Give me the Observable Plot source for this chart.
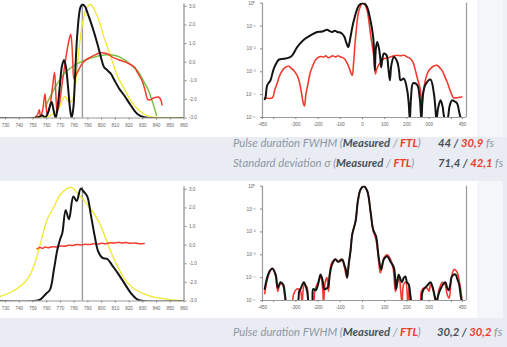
<!DOCTYPE html>
<html><head><meta charset="utf-8">
<script src="https://cdn.jsdelivr.net/npm/d3@7"></script>
<script src="https://cdn.jsdelivr.net/npm/@observablehq/plot@0.6"></script>
<style>
html,body{margin:0;padding:0}
body{width:507px;height:347px;overflow:hidden;position:relative;background:#e9edf3;font-family:Lato,"Liberation Sans",sans-serif}
.panel{position:absolute}
.chart{position:absolute}
.txt{position:absolute;font-size:11.3px;line-height:12px;white-space:nowrap;font-style:italic;color:#8d96a3}
.txt b{font-weight:700;color:#4b5058}
.txt .r{font-weight:700;color:#ee3a2c}
.txt .n{font-weight:700;color:#4b5058}
.txt .u{font-weight:400;color:#8d96a3}
</style></head>
<body>
<div class="panel" style="left:0;top:0;width:507px;height:137px;background:#eef1f6"></div>
<div class="panel" style="left:0;top:0;width:503px;height:137px;background:#f4f6fa"></div>
<div class="panel" style="left:0;top:0;width:477px;height:137px;background:#ffffff"></div>
<div class="panel" style="left:0;top:181px;width:503px;height:137px;background:#f4f6fa"></div>
<div class="panel" style="left:0;top:181px;width:477px;height:137px;background:#ffffff"></div>
<div id="c1" class="chart" style="left:0;top:0"></div>
<div id="c2" class="chart" style="left:240px;top:0"></div>
<div id="c3" class="chart" style="left:0;top:183px"></div>
<div id="c4" class="chart" style="left:240px;top:183px"></div>
<div class="txt" style="left:233px;top:137px">Pulse duration FWHM (<b>Measured</b> / <span class="r">FTL</span>)</div>
<div class="txt" style="left:438px;top:137px"><span class="n">44 / </span><span class="r">30,9</span> <span class="u">fs</span></div>
<div class="txt" style="left:233px;top:157px">Standard deviation σ (<b>Measured</b> / <span class="r">FTL</span>)</div>
<div class="txt" style="left:438px;top:157px"><span class="n">71,4 / </span><span class="r">42,1</span> <span class="u">fs</span></div>
<div class="txt" style="left:233px;top:326px">Pulse duration FWHM (<b>Measured</b> / <span class="r">FTL</span>)</div>
<div class="txt" style="left:437px;top:326px"><span class="n">30,2 / </span><span class="r">30,2</span> <span class="u">fs</span></div>
<script>
// ---------- DATA ----------
// wavelength ticks (nm) and phase ticks (rad)
const wlTicks = [730,740,750,760,770,780,790,800,810,820,830,840,850,860];
const phaseTicks = [-3,-2,-1,0,1,2,3];
const timeTicks = [-450,-400,-300,-200,-100,0,100,200,300,400,450];
const logTicks = [1e-5,1e-4,1e-3,1e-2,1e-1,1];
const centerWl = 786;

// Top row (before correction): [wavelength nm, normalized intensity]
const topMeasuredSpectrum = [[726,0],[750,0],[753,0.005],[755,0.012],[756.8,0.025],[758,0.01],[759.5,0.012],[761,0.05],[763.6,0.14],[765,0.07],[766.5,0.0],[768,0.1],[769.7,0.3],[771,0.45],[772.6,0.51],[774,0.45],[775.5,0.28],[777,0.08],[778.2,0.0],[779.5,0.1],[780.4,0.3],[782.3,0.74],[784.7,0.98],[786.2,1.0],[788,0.98],[789.6,0.93],[793.3,0.8],[797,0.65],[799.4,0.54],[801.7,0.45],[804.2,0.42],[806.7,0.39],[809,0.34],[812.7,0.26],[816.4,0.2],[821.3,0.11],[826,0.035],[831,0.006],[835,0],[860,0]];
const topFtlSpectrum = [[750,0],[760,0.01],[765,0.04],[769,0.09],[771,0.15],[773.3,0.19],[775,0.16],[776.5,0.14],[778.7,0.16],[780,0.22],[781,0.3],[783.5,0.6],[786,0.83],[788.4,0.95],[790.5,0.99],[792,1.0],[794.5,0.96],[798,0.86],[801.7,0.71],[806.7,0.54],[811.5,0.37],[816.4,0.26],[821.3,0.15],[826,0.08],[833.4,0.02],[840,0.005],[860,0]];
// [wavelength nm, spectral phase rad]
const topMeasuredPhase = [[752,-2.95],[753.5,-2.8],[754.6,-2.55],[755.5,-2.9],[757,-2.6],[758.7,-1.7],[759.6,-2.4],[760.5,-2.85],[762.5,-2.3],[764.3,-1.3],[765.7,-0.54],[766.6,-1.6],[767.6,-2.7],[769.5,-2.1],[771.5,-1.0],[773.5,0.0],[775.5,0.9],[777.4,1.5],[778.2,1.1],[779,0.0],[779.9,-0.9],[782,-0.6],[786.6,0.0],[792,0.27],[796,0.42],[799.4,0.5],[804,0.45],[809,0.23],[814,0.09],[819,-0.05],[824,-0.27],[826,-0.54],[828.5,-0.85],[830,-1.1],[832,-1.6],[833.5,-2.0],[835.5,-2.02],[837,-1.95],[839,-1.9],[841.5,-1.87],[843,-2.0],[844,-2.3]];
const topFitPhase = [[759,-2.4],[765,-1.5],[770,-0.9],[775,-0.45],[780,-0.18],[784.6,0.0],[790,0.17],[794.5,0.27],[799,0.36],[804,0.4],[810,0.36],[815,0.2],[819,0.0],[823,-0.25],[826,-0.45],[829,-0.8],[831,-1.07],[834,-1.5],[836,-1.9],[838,-2.35],[840,-2.86]];
// [time fs, log10 normalized intensity]
const topMeasuredPulse = [[-440,-4.2],[-436,-4.1],[-429,-3.6],[-414,-3.37],[-399,-2.86],[-376,-2.47],[-354,-2.43],[-331,-2.38],[-316,-2.28],[-294,-1.92],[-264,-1.6],[-234,-1.41],[-204,-1.26],[-181,-1.24],[-159,-1.16],[-148,-1.22],[-136,-1.26],[-125,-1.2],[-114,-1.26],[-100,-1.28],[-91,-1.34],[-80,-1.5],[-76,-1.63],[-68,-1.85],[-64,-1.92],[-58,-1.7],[-54,-1.48],[-39,-0.76],[-16,-0.1],[0,0],[10,-0.03],[21,-0.17],[36,-0.76],[48,-1.48],[53,-2.3],[55.5,-2.94],[60,-2.0],[66,-1.7],[73,-1.92],[80,-2.4],[84,-2.8],[90,-2.4],[96,-2.2],[108,-2.27],[116,-2.8],[123,-3.37],[130,-2.7],[141,-2.35],[156,-2.55],[165,-3.0],[171,-3.37],[186,-3.3],[201,-3.8],[208,-4.4],[213,-5.1],[218,-4.2],[228,-3.5],[246,-3.57],[258,-4.2],[265,-5.1],[272,-4.0],[283,-3.57],[306,-3.34],[321,-3.93],[328,-4.6],[333,-5.1],[340,-4.6],[351,-4.25],[360,-4.5],[366,-4.9],[372,-5.1],[381,-5.1],[392,-4.5],[403,-4.25],[415,-4.3],[426,-4.39],[436,-4.8],[444,-5.1]];
const topFtlPulse = [[-440,-4.14],[-406,-4.14],[-395,-3.8],[-384,-3.5],[-370,-3.1],[-354,-2.86],[-340,-2.77],[-331,-2.76],[-320,-2.85],[-309,-2.94],[-295,-3.15],[-286,-3.37],[-275,-3.9],[-268,-4.3],[-261,-4.5],[-255,-4.0],[-249,-3.7],[-240,-3.25],[-234,-3.0],[-220,-2.65],[-211,-2.47],[-196,-2.35],[-185,-2.33],[-174,-2.35],[-165,-2.3],[-155,-2.38],[-144,-2.35],[-135,-2.3],[-121,-2.35],[-110,-2.3],[-99,-2.35],[-85,-2.4],[-76,-2.5],[-61,-2.8],[-50,-3.1],[-46,-3.15],[-40,-2.6],[-31,-1.48],[-16,-0.32],[0,0],[10,-0.05],[21,-0.32],[36,-1.34],[51,-2.35],[55,-2.8],[58.5,-3.1],[63,-2.9],[73,-2.7],[85,-2.55],[96,-2.43],[110,-2.4],[126,-2.35],[141,-2.3],[156,-2.28],[171,-2.3],[186,-2.28],[201,-2.35],[216,-2.43],[228,-2.6],[238,-2.94],[250,-3.4],[258,-3.66],[264,-4.1],[268,-4.46],[274,-3.9],[283,-3.37],[295,-3.0],[306,-2.86],[321,-2.75],[336,-2.72],[350,-2.85],[358,-2.94],[370,-3.2],[381,-3.45],[392,-3.75],[403,-4.03],[410,-4.14],[418,-4.14],[447,-4.1]];

// Bottom row (after correction)
const botMeasuredSpectrum = [[726,0],[750.7,0],[755.5,0.015],[759.2,0.06],[762.4,0.1],[765.3,0.28],[767.7,0.45],[769.7,0.54],[771.4,0.6],[773.8,0.8],[776.2,0.72],[779.4,0.92],[781.8,0.88],[784.8,0.99],[787.2,0.96],[789.6,0.92],[792,0.77],[795,0.57],[797.4,0.44],[800.6,0.38],[804.2,0.37],[807.9,0.31],[811.5,0.25],[816.4,0.16],[821.3,0.07],[826,0.015],[831,0],[860,0]];
const botFtlSpectrum = [[726,0.04],[736,0.09],[745.8,0.19],[750.7,0.31],[755.5,0.51],[760.4,0.72],[765.3,0.83],[770.2,0.94],[777.5,1.0],[782.4,0.95],[789.6,0.85],[794.5,0.77],[799.4,0.66],[804.2,0.51],[809,0.37],[814,0.25],[818.8,0.16],[826,0.09],[835.9,0.04],[848,0.015],[860,0]];
const botMeasuredPhase = [[753,-0.2],[755,-0.12],[757,-0.17],[759,-0.1],[761,-0.14],[764,-0.08],[767,-0.1],[770,-0.04],[773,-0.06],[776,0.0],[779,-0.02],[782,0.03],[785,0.01],[788,0.05],[791,0.03],[794,0.07],[797,0.05],[800,0.1],[803,0.08],[806,0.13],[809,0.11],[812,0.15],[815,0.12],[818,0.14],[821,0.1],[824,0.12],[827,0.08],[831,0.09]];
const botMeasuredPulse = [[-440,-4.5],[-429,-4.0],[-417,-3.7],[-406,-3.6],[-391,-3.86],[-381,-4.45],[-369,-4.2],[-357,-4.3],[-348,-4.8],[-342,-5.1],[-294,-5.1],[-285,-4.6],[-279,-4.5],[-264,-4.2],[-255,-4.4],[-249,-4.6],[-240,-5.1],[-228,-5.1],[-222,-4.5],[-210,-4.55],[-200,-4.3],[-189,-3.86],[-180,-4.1],[-172,-4.5],[-166,-4.5],[-155,-4.4],[-148,-3.9],[-136,-3.4],[-121,-3.2],[-112,-3.3],[-106,-3.3],[-98,-3.25],[-91,-3.2],[-80,-3.5],[-76,-3.6],[-69,-4.0],[-62,-3.4],[-54,-2.84],[-46,-2.1],[-31,-1.53],[-21,-0.66],[-9,-0.15],[5,0],[21,-0.2],[36,-1.1],[48,-1.9],[61,-2.19],[73,-3.13],[84,-3.64],[96,-3.2],[111,-3.06],[126,-3.3],[141,-3.55],[147,-4.0],[151,-4.5],[156,-4.2],[163,-3.86],[172,-4.1],[178,-4.2],[186,-4.0],[193,-3.95],[200,-4.2],[208,-4.3],[216,-4.8],[223,-5.1],[262,-5.1],[268,-4.7],[276,-4.5],[291,-4.35],[306,-4.2],[316,-4.45],[325,-4.8],[333,-5.1],[340,-4.8],[351,-4.5],[362,-4.3],[373,-4.2],[381,-4.45],[388,-4.55],[395,-4.3],[403,-3.94],[418,-3.86],[428,-4.1],[435,-4.3],[442,-4.8],[448,-5.1]];
const botFtlPulse = [[-440,-4.7],[-429,-4.1],[-417,-3.75],[-406,-3.6],[-392,-3.9],[-381,-4.6],[-372,-4.3],[-360,-4.3],[-350,-4.8],[-342,-5.1],[-320,-5.1],[-309,-4.7],[-295,-4.5],[-280,-4.55],[-272,-5.1],[-262,-4.3],[-250,-4.4],[-240,-5.1],[-222,-5.1],[-215,-4.6],[-205,-4.3],[-195,-4.1],[-188,-3.95],[-180,-4.4],[-175,-5.1],[-168,-4.2],[-160,-4.0],[-153,-4.6],[-145,-3.6],[-136,-3.3],[-121,-3.2],[-110,-3.3],[-98,-3.2],[-88,-3.3],[-78,-3.7],[-70,-4.0],[-60,-3.3],[-54,-2.84],[-46,-2.1],[-31,-1.5],[-21,-0.66],[-9,-0.15],[5,0],[21,-0.2],[36,-1.1],[48,-1.95],[60,-2.3],[70,-3.0],[80,-3.8],[86,-3.6],[96,-3.15],[111,-3.0],[126,-3.2],[138,-3.6],[148,-4.6],[156,-4.3],[165,-3.95],[172,-4.6],[178,-5.1],[185,-4.3],[195,-4.2],[204,-5.1],[210,-4.4],[218,-5.1],[256,-5.1],[265,-4.6],[276,-4.45],[290,-4.45],[300,-4.6],[306,-4.3],[315,-4.4],[325,-4.9],[333,-5.1],[345,-4.5],[360,-4.2],[372,-4.3],[380,-4.7],[390,-4.9],[400,-4.0],[412,-3.64],[425,-3.75],[438,-4.3],[448,-5.0]];

// ---------- COLORS ----------
const BLACK = "#141414", RED = "#f23b2e", YELLOW = "#f0e62a", GREEN = "#7cc242", AXIS = "#9a9a9a";

const baseStyle = {background: "transparent", fontFamily: "'Liberation Sans', Arial, sans-serif", fontSize: "5px", color: "#666", overflow: "visible"};

function spectrumPlot(measured, ftl, phase, fit) {
  const toY = d => -3 + 6.1 * d[1]; // intensity 0..1 drawn on the phase frame
  const marks = [
    Plot.ruleX([centerWl], {stroke: AXIS, strokeWidth: 1.4}),
    Plot.ruleY([-3], {stroke: AXIS, strokeWidth: 1}),
    Plot.ruleX([860], {stroke: AXIS, strokeWidth: 1.4}),
    Plot.axisX({ticks: wlTicks, tickSize: 2, tickPadding: 3.5, fontSize: 4.6, stroke: "#888"}),
    Plot.axisY({anchor: "right", ticks: phaseTicks, tickFormat: d => d.toFixed(1), tickSize: 2, tickPadding: 3, fontSize: 4.6, stroke: "#888"}),
    Plot.line(ftl, {x: d => d[0], y: toY, stroke: YELLOW, strokeWidth: 1.3, curve: "catmull-rom", clip: true}),
  ];
  if (fit) marks.push(Plot.line(fit, {x: d => d[0], y: d => d[1], stroke: GREEN, strokeWidth: 1.5, curve: "catmull-rom", clip: true}));
  marks.push(Plot.line(phase, {x: d => d[0], y: d => d[1], stroke: RED, strokeWidth: 1.5, curve: "catmull-rom", clip: true}));
  marks.push(Plot.line(measured, {x: d => d[0], y: toY, stroke: BLACK, strokeWidth: 2, curve: "catmull-rom", clip: true}));
  return Plot.plot({
    width: 215, height: 135,
    marginLeft: 0, marginRight: 31.5, marginTop: 3.6, marginBottom: 17.5,
    x: {domain: [726.35, 860], axis: null},
    y: {domain: [-3, 3.12], axis: null},
    style: baseStyle,
    marks
  });
}

const supDigits = {"0":"⁰","1":"¹","2":"²","3":"³","4":"⁴","5":"⁵","-":"⁻"};
const logFmt = d => "10" + String(Math.round(Math.log10(d))).split("").map(c => supDigits[c]).join("");

function pulsePlot(measured, ftl) {
  return Plot.plot({
    width: 232, height: 135,
    marginLeft: 22, marginRight: 6, marginTop: 2.7, marginBottom: 18,
    x: {domain: [-450, 468], axis: null},
    y: {type: "log", domain: [1e-5, 1], axis: null},
    style: baseStyle,
    marks: [
      Plot.ruleX([-450, 468], {stroke: AXIS, strokeWidth: 1.2}),
      Plot.ruleY([1e-5], {stroke: AXIS, strokeWidth: 1}),
      Plot.axisX({ticks: timeTicks, tickFormat: d => Math.abs(d) === 400 ? "" : String(d), tickSize: 2, tickPadding: 3.5, fontSize: 4.6, stroke: "#888"}),
      Plot.axisY({anchor: "left", ticks: logTicks, tickFormat: logFmt, tickSize: 2, tickPadding: 5, fontSize: 4.8, stroke: "#888"}),
      Plot.line(ftl, {x: d => d[0], y: d => Math.pow(10, d[1]), stroke: RED, strokeWidth: 1.6, curve: "catmull-rom", clip: true}),
      Plot.line(measured, {x: d => d[0], y: d => Math.pow(10, d[1]), stroke: BLACK, strokeWidth: 2, curve: "catmull-rom", clip: true})
    ]
  });
}

document.getElementById("c1").append(spectrumPlot(topMeasuredSpectrum, topFtlSpectrum, topMeasuredPhase, topFitPhase));
document.getElementById("c2").append(pulsePlot(topMeasuredPulse, topFtlPulse));
document.getElementById("c3").append(spectrumPlot(botMeasuredSpectrum, botFtlSpectrum, botMeasuredPhase, null));
document.getElementById("c4").append(pulsePlot(botMeasuredPulse, botFtlPulse));
</script>
</body></html>
